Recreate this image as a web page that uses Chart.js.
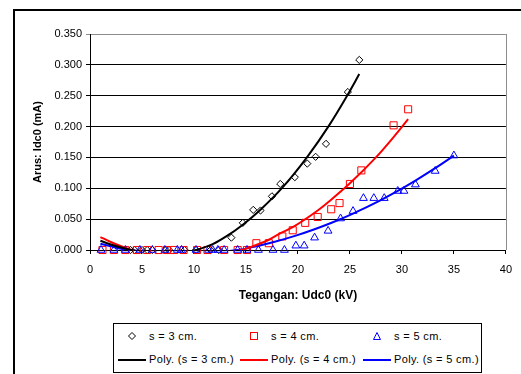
<!DOCTYPE html>
<html>
<head>
<meta charset="utf-8">
<script src="https://cdn.jsdelivr.net/npm/chart.js@4"></script>
<style>
  body { margin: 0; background: #fff; }
  #wrap { position: relative; width: 521px; height: 374px; overflow: hidden; }
  #legend { position: absolute; left: 113px; top: 323px; width: 367px; height: 48px; border: 1px solid #000; background: #fff;
            font: 11px "Liberation Sans", Arial, sans-serif; color: #000; letter-spacing: 0.35px; }
  .item { position: absolute; white-space: nowrap; line-height: 13px; }
  .item svg { position: absolute; }
</style>
</head>
<body>
<div id="wrap">
  <canvas id="myChart" width="521" height="374"></canvas>
  <div id="legend"></div>
</div>
<script>
// Datos medidos (kV, mA)
const s3X = [3.9, 4.3, 5.0, 5.5, 6.0, 7.3, 7.6, 9.1, 10.2, 11.6, 12.4, 13.6, 14.7, 15.7, 16.4, 17.5, 18.3, 19.7, 20.9, 21.7, 22.7, 24.8, 25.9];
const s3Y = [0, 0, 0, 0, 0, 0, 0, 0, 0, 0, 0, 0.020, 0.044, 0.065, 0.064, 0.087, 0.107, 0.118, 0.140, 0.151, 0.172, 0.256, 0.308];

const s4X = [1.2, 2.3, 3.4, 4.5, 5.5, 6.6, 7.4, 8.1, 9.0, 10.3, 11.3, 12.9, 14.2, 15.1, 16.0, 17.2, 18.5, 19.5, 20.7, 21.9, 23.2, 24.0, 25.0, 26.1, 29.2, 30.6];
const s4Y = [0, 0, 0, 0, 0, 0, 0, 0, 0, 0, 0, 0, 0, 0, 0.011, 0.011, 0.022, 0.032, 0.044, 0.0535, 0.066, 0.076, 0.107, 0.129, 0.202, 0.228];

const s5X = [1.06, 2.3, 3.4, 4.8, 6.0, 7.2, 8.4, 8.8, 10.2, 11.4, 11.8, 12.3, 12.9, 14.2, 15.1, 16.2, 17.6, 18.7, 19.8, 20.6, 21.6, 22.9, 24.1, 25.3, 26.3, 27.3, 28.3, 29.6, 30.2, 31.3, 33.2, 35.0];
const s5Y = [0, 0, 0, 0, 0, 0, 0, 0, 0, 0, 0, 0, 0, 0, 0, 0, 0, 0, 0.007, 0.007, 0.020, 0.031, 0.051, 0.063, 0.084, 0.084, 0.084, 0.0956, 0.0956, 0.106, 0.128, 0.153];

// Lineas de tendencia
const poly3X = [1, 2, 3, 4, 5, 7, 9, 10.2, 11.8, 13.1, 14.7, 16.5, 18.5, 20.9, 23.0, 24.8, 25.9];
const poly3Y = [0.015, 0.009, 0.004, 0.000, -0.004, -0.008, -0.005, 0.000, 0.0095, 0.022, 0.041, 0.067, 0.101, 0.151, 0.202, 0.252, 0.285];

const poly4X = [1, 2, 3, 4, 6, 9, 12, 14.6, 15.3, 17.2, 18.2, 19.5, 21.9, 23.3, 25.0, 27.5, 29.1, 30.6];
const poly4Y = [0.021, 0.013, 0.006, 0.000, -0.006, -0.010, -0.006, 0.000, 0.0038, 0.0166, 0.026, 0.037, 0.064, 0.083, 0.108, 0.150, 0.181, 0.212];

const poly5X = [1, 2, 3, 4, 7, 10, 14.2, 15.3, 17.6, 19.8, 21.6, 23.3, 25.3, 27.3, 29.6, 31.3, 33.2, 35.0];
const poly5Y = [0.010, 0.006, 0.002, 0.000, -0.005, -0.005, 0.000, 0.0035, 0.0126, 0.0233, 0.0336, 0.0445, 0.059, 0.075, 0.0958, 0.1125, 0.1326, 0.153];

const xTicks = [0, 5, 10, 15, 20, 25, 30, 35, 40];
const yTicks = [0, 0.05, 0.10, 0.15, 0.20, 0.25, 0.30, 0.35];

const labels = ['s = 3 cm.', 's = 4 cm.', 's = 5 cm.', 'Poly. (s = 3 cm.)', 'Poly. (s = 4 cm.)', 'Poly. (s = 5 cm.)'];

function pts(xs, ys) {
    return xs.map((x, i) => ({ x: x, y: ys[i] }));
}

const FONT = '"Liberation Sans", Arial, sans-serif';

function marcador(label, xs, ys, color, style, radius, order) {
    return {
        type: 'scatter', label: label, data: pts(xs, ys),
        pointStyle: style, pointRadius: radius, pointHoverRadius: radius,
        borderColor: color, pointBorderColor: color, pointBorderWidth: 1,
        backgroundColor: 'rgba(0,0,0,0)', pointBackgroundColor: 'rgba(0,0,0,0)',
        showLine: false, clip: false, order: order
    };
}

function tendencia(label, xs, ys, color) {
    return {
        type: 'line', label: label, data: pts(xs, ys),
        borderColor: color, borderWidth: 2, pointRadius: 0,
        cubicInterpolationMode: 'monotone', fill: false, clip: 0, order: 0
    };
}

// Marco exterior y borde gris del area
const marco = {
    id: 'marco',
    beforeDraw(chart) {
        const { ctx, chartArea: a } = chart;
        ctx.save();
        ctx.strokeStyle = '#000';
        ctx.lineWidth = 2;
        ctx.strokeRect(14, 10, 700, 700);
        ctx.strokeStyle = '#8c8c8c';
        ctx.lineWidth = 1;
        ctx.beginPath();
        ctx.moveTo(Math.round(a.right) + 0.5, a.top);
        ctx.lineTo(Math.round(a.right) + 0.5, a.bottom);
        ctx.stroke();
        ctx.restore();
    }
};

const config = {
    data: {
        datasets: [
            marcador(labels[0], s3X, s3Y, '#000000', 'rectRot', 3.6, 3),
            marcador(labels[1], s4X, s4Y, '#ff0000', 'rect', 5, 2),
            marcador(labels[2], s5X, s5Y, '#0000ff', 'triangle', 4.5, 1),
            tendencia(labels[3], poly3X, poly3Y, '#000000'),
            tendencia(labels[4], poly4X, poly4Y, '#ff0000'),
            tendencia(labels[5], poly5X, poly5Y, '#0000ff')
        ]
    },
    options: {
        responsive: false,
        animation: false,
        layout: { padding: { left: 0, right: 14, top: 34, bottom: 0 } },
        scales: {
            x: {
                type: 'linear', min: 0, max: 40,
                afterBuildTicks: s => { s.ticks = xTicks.map(v => ({ value: v })); },
                afterFit: s => { s.height = 124; },
                ticks: { font: { family: FONT, size: 11 }, color: '#000', padding: 9, maxRotation: 0 },
                grid: { drawOnChartArea: false, drawTicks: true, tickLength: 4, color: '#000' },
                border: { color: '#000', width: 1 },
                title: { display: true, text: 'Tegangan: Udc0 (kV)', color: '#000',
                         font: { family: FONT, size: 12, weight: 'bold' }, padding: { top: 0, bottom: 71 } }
            },
            y: {
                type: 'linear', min: 0, max: 0.35,
                afterBuildTicks: s => { s.ticks = yTicks.map(v => ({ value: v })); },
                afterFit: s => { s.width = 90; },
                ticks: { font: { family: FONT, size: 11 }, color: '#000', padding: 4,
                         callback: v => v.toFixed(3) },
                grid: { drawTicks: true, tickLength: 4,
                        color: c => (c.tick && c.tick.value > 0.349 ? '#8c8c8c' : '#000') },
                border: { color: '#000', width: 1 },
                title: { display: true, text: 'Arus: Idc0 (mA)', color: '#000',
                         font: { family: FONT, size: 11, weight: 'bold' }, padding: { top: 31, bottom: 0 } }
            }
        },
        plugins: {
            legend: { display: false },
            tooltip: { enabled: false }
        }
    },
    plugins: [marco]
};

const myChart = new Chart(document.getElementById('myChart'), config);

// Leyenda (3 columnas x 2 filas)
const colores = ['#000', '#f00', '#00f'];
const legend = document.getElementById('legend');
const formas = [
    '<polygon points="4,0.5 7.5,4 4,7.5 0.5,4" fill="none" stroke="#000" stroke-width="1"/>',
    '<rect x="0.5" y="0.5" width="7" height="7" fill="none" stroke="#f00" stroke-width="1"/>',
    '<polygon points="4,0.5 7.5,7.5 0.5,7.5" fill="none" stroke="#00f" stroke-width="1"/>'
];
const colX = [0, 122, 245];
for (let i = 0; i < 3; i++) {
    const a = document.createElement('div');
    a.className = 'item';
    a.style.left = (colX[i] + 14) + 'px';
    a.style.top = '6px';
    a.innerHTML = '<svg width="8" height="8" style="left:0;top:2px">' + formas[i] + '</svg>' +
        '<span style="position:absolute;left:21px;top:0">' + labels[i] + '</span>';
    legend.appendChild(a);

    const b = document.createElement('div');
    b.className = 'item';
    b.style.left = (colX[i] + 4) + 'px';
    b.style.top = '29px';
    b.innerHTML = '<svg width="28" height="4" style="left:0;top:5px"><line x1="0" y1="2" x2="28" y2="2" stroke="' + colores[i] + '" stroke-width="2"/></svg>' +
        '<span style="position:absolute;left:31px;top:0">' + labels[i + 3] + '</span>';
    legend.appendChild(b);
}
</script>
</body>
</html>
